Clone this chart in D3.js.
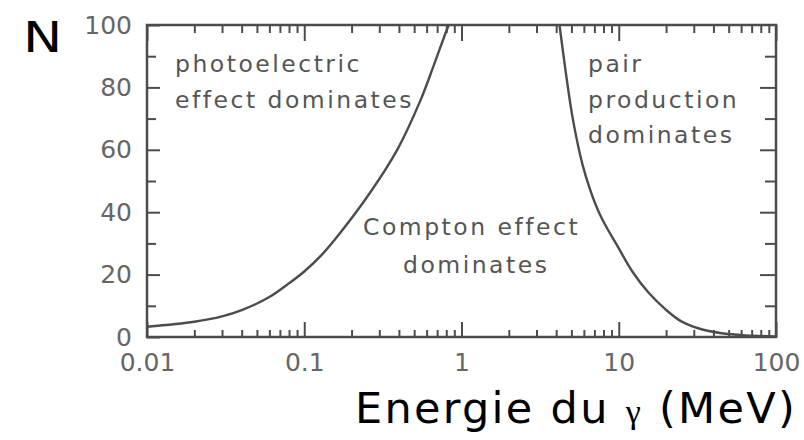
<!DOCTYPE html>
<html>
<head>
<meta charset="utf-8">
<script src="https://cdn.jsdelivr.net/npm/d3@7"></script>
<style>
  html, body { margin: 0; padding: 0; background: #fff; }
  svg { display: block; }
</style>
</head>
<body>
<svg id="chart" width="804" height="440"></svg>
<script>
// Photon energy (MeV) where each interaction process dominates, plotted against atomic number N.

// Decade ticks on the energy axis and their labels
const energyDecades = [0.01, 0.1, 1, 10, 100];
const energyLabels = ["0.01", "0.1", "1", "10", "100"];
// Atomic-number ticks (labelled every 20, unlabelled every 10)
const nMajor = [0, 20, 40, 60, 80, 100];
const nMinor = [10, 30, 50, 70, 90];

// Boundary photoelectric / Compton: energy (MeV) and N
const photoEnergy = [0.01, 0.02, 0.03, 0.04, 0.06, 0.08, 0.1, 0.13, 0.17, 0.26, 0.39, 0.55, 0.66, 0.8, 0.83];
const photoN      = [3.3,  4.9,  6.6,  8.6,  12.8, 17.2, 21,  26.5, 33.5, 46,   60,   76,   86.5, 98,  100];

// Boundary Compton / pair production: energy (MeV) and N
const pairEnergy = [4.2, 4.6, 5.1, 5.9, 6.6, 7.4,  8.4, 9.6, 12.2, 15.6, 20,  25, 32,  45,  65,  100];
const pairN      = [100, 85,  70,  55,  47,  40.5, 35,  30,  21,   14,   8.7, 5,  2.8, 1.2, 0.5, 0.2];

// Region captions
const photoText   = ["photoelectric", "effect dominates"];
const comptonText = ["Compton effect", "dominates"];
const pairText    = ["pair", "production", "dominates"];
const yTitle = "N";
const xTitle = ["Energie du ", "\u03b3", " (MeV)"];

// ---- layout ----
const plot = { left: 147, right: 776, top: 25, bottom: 337 };
const ink = "#4c4c4c";
const labelInk = "#666";
const techFont = "'DejaVu Sans', sans-serif";
const handFont = "'Comic Sans MS', 'DejaVu Sans', sans-serif";

const svg = d3.select("#chart");

const x = d3.scaleLog().domain([0.01, 100]).range([plot.left, plot.right]);
const y = d3.scaleLinear().domain([0, 100]).range([plot.bottom, plot.top]);

// minor energy ticks: 2..9 in every decade
const energyMinor = [];
energyDecades.slice(0, -1).forEach(d => {
  for (let k = 2; k <= 9; k++) energyMinor.push(+(d * k).toPrecision(3));
});

function styleAxis(g) {
  g.select(".domain").remove();
  g.selectAll(".tick line").attr("stroke", ink).attr("stroke-width", 2);
  g.selectAll(".tick text")
    .attr("fill", labelInk)
    .attr("font-family", techFont)
    .attr("font-size", 25);
}

// bottom axis: inward ticks, labelled decades
svg.append("g")
  .attr("transform", `translate(0,${plot.bottom})`)
  .call(d3.axisBottom(x).tickValues(energyMinor).tickSize(-7).tickFormat(""))
  .call(styleAxis);
svg.append("g")
  .attr("transform", `translate(0,${plot.bottom})`)
  .call(d3.axisBottom(x).tickValues(energyDecades).tickSize(-15).tickPadding(16)
        .tickFormat((d, i) => energyLabels[i]))
  .call(styleAxis);

// top axis: ticks only
svg.append("g")
  .attr("transform", `translate(0,${plot.top})`)
  .call(d3.axisTop(x).tickValues(energyMinor).tickSize(-8).tickFormat(""))
  .call(styleAxis);
svg.append("g")
  .attr("transform", `translate(0,${plot.top})`)
  .call(d3.axisTop(x).tickValues(energyDecades).tickSize(-16).tickFormat(""))
  .call(styleAxis);

// left axis: labelled every 20
svg.append("g")
  .attr("transform", `translate(${plot.left},0)`)
  .call(d3.axisLeft(y).tickValues(nMinor).tickSize(-9).tickFormat(""))
  .call(styleAxis);
svg.append("g")
  .attr("transform", `translate(${plot.left},0)`)
  .call(d3.axisLeft(y).tickValues(nMajor).tickSize(-13).tickPadding(15).tickFormat(d3.format("d")))
  .call(styleAxis);

// right axis: ticks only
svg.append("g")
  .attr("transform", `translate(${plot.right},0)`)
  .call(d3.axisRight(y).tickValues(nMinor).tickSize(-11).tickFormat(""))
  .call(styleAxis);
svg.append("g")
  .attr("transform", `translate(${plot.right},0)`)
  .call(d3.axisRight(y).tickValues(nMajor.slice(1, -1)).tickSize(-16).tickFormat(""))
  .call(styleAxis);

// frame
svg.append("rect")
  .attr("x", plot.left).attr("y", plot.top)
  .attr("width", plot.right - plot.left).attr("height", plot.bottom - plot.top)
  .attr("fill", "none").attr("stroke", ink).attr("stroke-width", 2.5);

// boundary curves
const line = d3.line()
  .x(d => x(d[0]))
  .y(d => y(d[1]))
  .curve(d3.curveCatmullRom.alpha(0.5));

svg.append("path")
  .datum(d3.zip(photoEnergy, photoN))
  .attr("d", line)
  .attr("fill", "none").attr("stroke", ink).attr("stroke-width", 2.4);

svg.append("path")
  .datum(d3.zip(pairEnergy, pairN))
  .attr("d", line)
  .attr("fill", "none").attr("stroke", ink).attr("stroke-width", 2.4);

// region captions
function caption(lines, px, baselines) {
  svg.append("g").selectAll("text")
    .data(lines)
    .join("text")
    .attr("x", (d, i) => px[i])
    .attr("y", (d, i) => baselines[i])
    .attr("fill", "#555")
    .attr("font-family", techFont)
    .attr("font-size", 23.5)
    .attr("letter-spacing", 2.5)
    .text(d => d);
}
caption(photoText, [175, 175], [72, 108]);
caption(comptonText, [363, 403], [235, 273]);
caption(pairText, [588, 588, 588], [72, 108, 143]);

// axis titles
svg.append("text")
  .attr("transform", "translate(23,52) scale(1.25,1)")
  .attr("font-family", handFont).attr("font-size", 42)
  .attr("fill", "#000")
  .text(yTitle);

const xt = svg.append("text")
  .attr("x", 797).attr("y", 423)
  .attr("text-anchor", "end")
  .attr("font-family", handFont).attr("font-size", 43)
  .attr("letter-spacing", 2.3)
  .attr("fill", "#000");
xt.append("tspan").text(xTitle[0]);
xt.append("tspan").attr("font-family", "'Liberation Serif', serif").attr("font-size", 34).text(xTitle[1]);
xt.append("tspan").text(xTitle[2]);
</script>
</body>
</html>
